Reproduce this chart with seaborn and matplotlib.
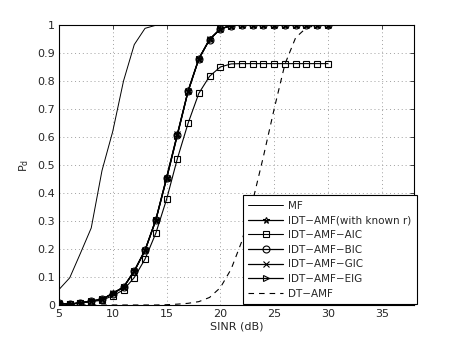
"""
Detection probability vs SINR, MATLAB-like line chart
"""

import matplotlib
matplotlib.use('Agg')
import matplotlib.pyplot as plt
import seaborn as sns
import numpy as np
import pandas as pd

# data
sinr_mf = [5, 6, 7, 8, 9, 10, 11, 12, 13, 14, 15]
pd_mf = [0.055, 0.097, 0.185, 0.275, 0.48, 0.62, 0.80, 0.93, 0.988, 0.999, 1.0]

sinr = list(range(5, 31))
pd_known = [0.006, 0.003, 0.008, 0.014, 0.020, 0.042, 0.064, 0.122, 0.196, 0.305,
            0.455, 0.610, 0.765, 0.880, 0.949, 0.986, 0.998, 1.0, 1.0, 1.0,
            1.0, 1.0, 1.0, 1.0, 1.0, 1.0]
pd_aic = [0.005, 0.003, 0.007, 0.012, 0.017, 0.033, 0.054, 0.098, 0.164, 0.256,
          0.377, 0.522, 0.649, 0.756, 0.817, 0.850, 0.861, 0.862, 0.862, 0.862,
          0.862, 0.862, 0.862, 0.862, 0.862, 0.862]
pd_bic = [0.006, 0.003, 0.008, 0.014, 0.020, 0.041, 0.063, 0.121, 0.195, 0.303,
          0.452, 0.607, 0.763, 0.879, 0.948, 0.986, 0.998, 1.0, 1.0, 1.0,
          1.0, 1.0, 1.0, 1.0, 1.0, 1.0]
pd_gic = [0.006, 0.003, 0.008, 0.014, 0.020, 0.042, 0.064, 0.122, 0.196, 0.304,
          0.454, 0.609, 0.764, 0.880, 0.949, 0.986, 0.998, 1.0, 1.0, 1.0,
          1.0, 1.0, 1.0, 1.0, 1.0, 1.0]
pd_eig = [0.006, 0.003, 0.008, 0.014, 0.020, 0.041, 0.063, 0.120, 0.194, 0.302,
          0.450, 0.605, 0.762, 0.878, 0.948, 0.985, 0.998, 1.0, 1.0, 1.0,
          1.0, 1.0, 1.0, 1.0, 1.0, 1.0]
pd_dt = [0.0, 0.0, 0.0, 0.0, 0.0, 0.0, 0.0, 0.0, 0.0, 0.0,
         0.001, 0.003, 0.006, 0.012, 0.027, 0.062, 0.128, 0.228, 0.37, 0.53,
         0.70, 0.86, 0.955, 0.99, 0.999, 1.0]

x_ticks = [5, 10, 15, 20, 25, 30, 35]
y_ticks = [0, 0.1, 0.2, 0.3, 0.4, 0.5, 0.6, 0.7, 0.8, 0.9, 1]
y_tick_labels = ['0', '0.1', '0.2', '0.3', '0.4', '0.5', '0.6', '0.7', '0.8', '0.9', '1']

sns.set_style('white')
plt.rcParams['font.family'] = ['DejaVu Sans']
plt.rcParams['xtick.direction'] = 'in'
plt.rcParams['ytick.direction'] = 'in'

fig = plt.figure(figsize=(4.57, 3.44), dpi=100)
ax = fig.add_axes([0.129, 0.1134, 0.777, 0.814])

series = [
    ('MF', sinr_mf, pd_mf, None, '-', 0.7),
    ('IDT\u2212AMF(with known r)', sinr, pd_known, '*', '-', 0.9),
    ('IDT\u2212AMF\u2212AIC', sinr, pd_aic, 's', '-', 0.8),
    ('IDT\u2212AMF\u2212BIC', sinr, pd_bic, 'o', '-', 0.9),
    ('IDT\u2212AMF\u2212GIC', sinr, pd_gic, 'x', '-', 0.9),
    ('IDT\u2212AMF\u2212EIG', sinr, pd_eig, '>', '-', 0.9),
    ('DT\u2212AMF', sinr, pd_dt, None, (0, (5, 4.5)), 0.8),
]

for name, xs, ys, mk, ls, lw in series:
    df = pd.DataFrame({'SINR': xs, 'Pd': ys})
    kw = dict(color='black', linewidth=lw, linestyle=ls, label=name)
    if mk is not None:
        kw.update(marker=mk, markersize=5, markerfacecolor='none',
                  markeredgecolor='black', markeredgewidth=0.8)
    sns.lineplot(data=df, x='SINR', y='Pd', ax=ax, **kw)

ax.set_xlim(5, 38)
ax.set_ylim(0, 1)
ax.set_xticks(x_ticks)
ax.set_yticks(y_ticks)
ax.set_yticklabels(y_tick_labels)
ax.tick_params(labelsize=8, length=3, width=0.6, top=True, right=True, pad=3)
ax.grid(True, linestyle=(0, (1, 3)), color='#a0a0a0', linewidth=0.7)
for s in ax.spines.values():
    s.set_color('black')
    s.set_linewidth(0.8)

ax.set_xlabel('SINR (dB)', fontsize=8, labelpad=2)
ax.set_ylabel('P$_\\mathregular{d}$', fontsize=8, labelpad=4)

leg = ax.legend(loc='lower right', bbox_to_anchor=(1.008, 0.004), fontsize=7.5,
                handlelength=3.4, borderaxespad=0, fancybox=False, framealpha=1,
                edgecolor='black', borderpad=0.5, labelspacing=0.45,
                handletextpad=0.5)
leg.get_frame().set_linewidth(0.8)

plt.savefig('out.png', dpi=100)
plt.close()
